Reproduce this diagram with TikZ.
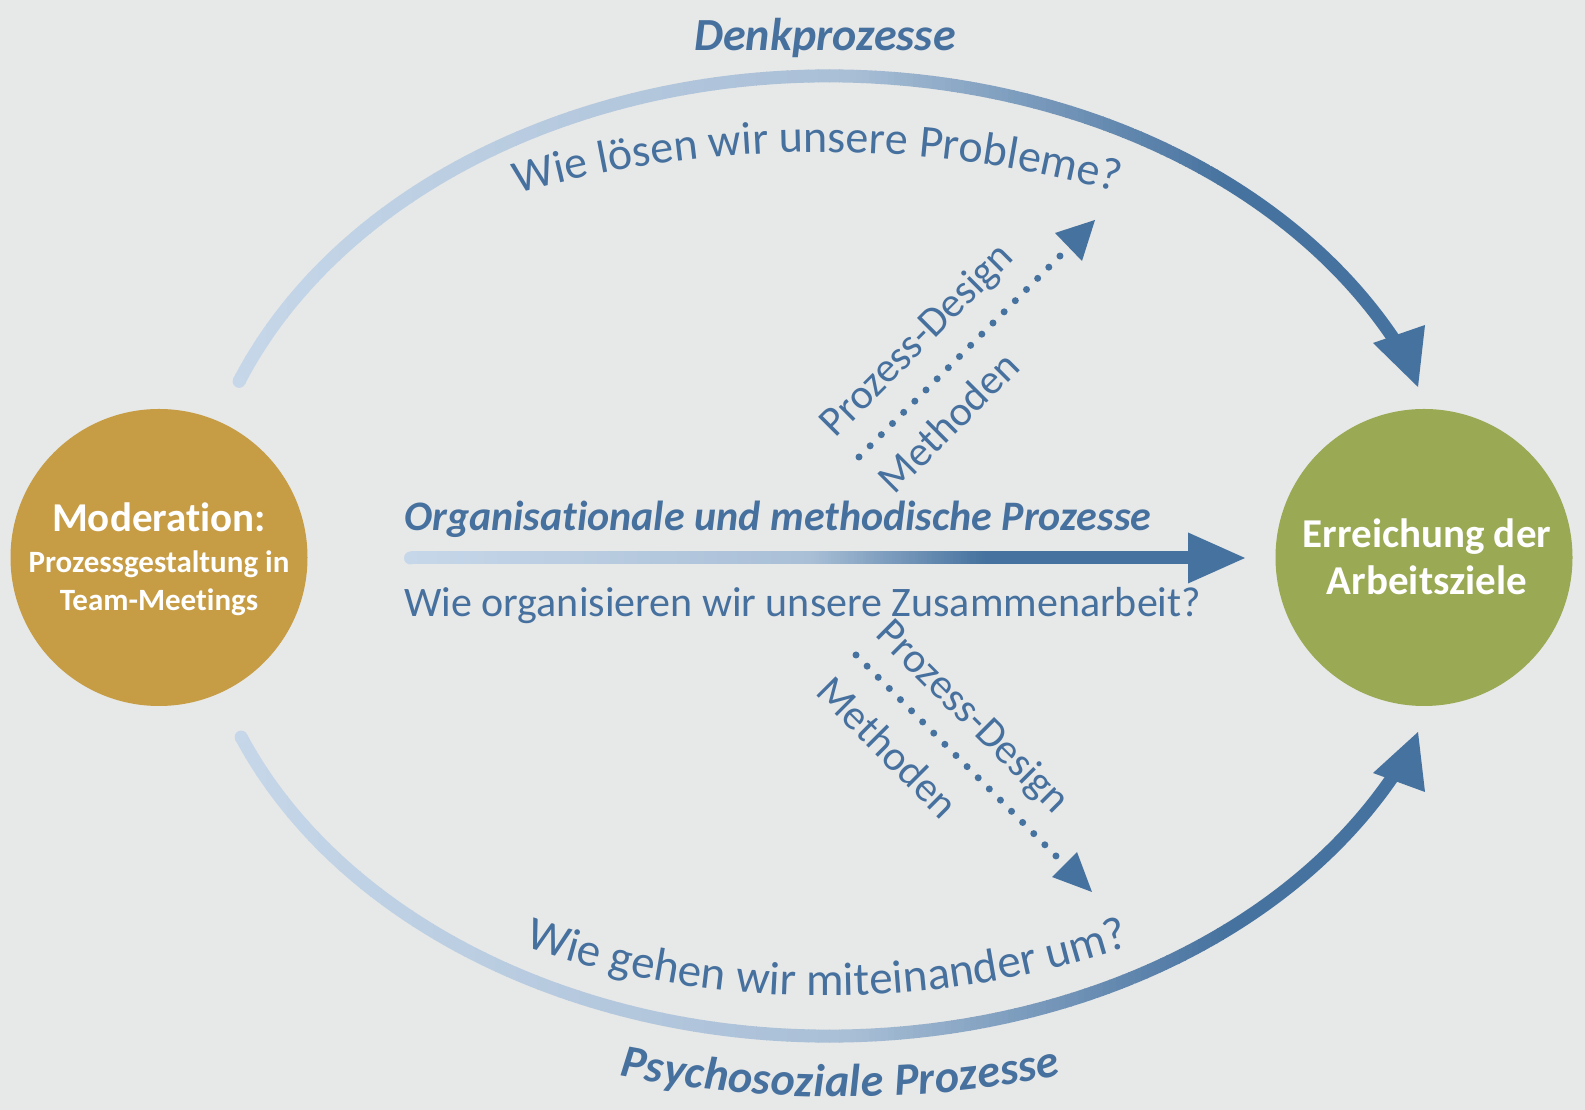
\documentclass[tikz,border=0pt]{standalone}
\usepackage{fontspec}
\setmainfont{Carlito}[Ligatures=NoCommon]
\usetikzlibrary{calc,decorations.text}
\definecolor{bgcol}{HTML}{E7E8E8}
\definecolor{gold}{HTML}{C69C45}
\definecolor{olive}{HTML}{9AA954}
\definecolor{tblue}{HTML}{46709E}
\definecolor{lightb}{HTML}{C6D7E9}
\definecolor{midb}{HTML}{A9BFD6}
\definecolor{darkb}{HTML}{46729F}
\newcommand\curvefont{\fontsize{46}{54}\selectfont}
\newcommand\curvefontb{\fontsize{47}{54}\selectfont}
\newcommand\curvebold{\fontsize{46}{54}\selectfont\bfseries\itshape}
% gradient slices: #1 x0, #2 x1, #3 y0, #4 y1, #5 colour from, #6 colour to
\newcommand\gradslices[6]{%
  \pgfmathsetmacro\gw{(#2-#1)/60}%
  \foreach \gi in {0,...,59}{%
    \pgfmathtruncatemacro\gp{round(100*(\gi+0.5)/60)}%
    \fill[#6!\gp!#5] ({#1+\gi*\gw-0.4},#3) rectangle ({#1+(\gi+1)*\gw+0.4},#4);
  }%
}
\begin{document}
\begin{tikzpicture}[x=1pt,y=1pt,
  lbl/.style={text=tblue, inner sep=0pt, font=\fontsize{42}{50}\selectfont},
  ttl/.style={text=tblue, inner sep=0pt, font=\fontsize{46}{54}\selectfont\bfseries\itshape},
  ttlm/.style={text=tblue, inner sep=0pt, font=\fontsize{42}{50}\selectfont\bfseries\itshape},
  ctext/.style={text=white, inner sep=0pt, font=\fontsize{41}{48}\selectfont\bfseries},
  csmall/.style={text=white, inner sep=0pt, font=\fontsize{31}{37}\selectfont\bfseries},
  dotline/.style={draw=darkb, line width=7pt, line cap=round},
  headfill/.style={fill=darkb},
  ball/.style={circle, inner sep=0pt, minimum size=297pt}
]
\fill[bgcol] (0,0) rectangle (1585,1110);
\useasboundingbox (0,0) rectangle (1585,1110);

% circles
\node[ball, fill=gold] (mod) at (159,552.5) {};
\node[ball, fill=olive] (ziel) at (1424,552.5) {};
\node[ctext, anchor=base] (modt1) at (159,578) {Moderation:};
\node[csmall, anchor=base] (modt2) at (159,537) {Prozessgestaltung in};
\node[csmall, anchor=base] (modt3) at (159,499) {Team-Meetings};
\node[ctext, anchor=base] (zt1) at (1427,562) {Erreichung der};
\node[ctext, anchor=base] (zt2) at (1427,515) {Arbeitsziele};

% top band
\coordinate (ts) at ([shift={(829,552)}]158.5:634 and 482);
\begin{scope}
\clip ([shift={(829,552)}]158.5:640.5 and 488.5) arc[start angle=158.5, end angle=27, x radius=640.5, y radius=488.5]
  -- ([shift={(829,552)}]27:627.5 and 475.5) arc[start angle=27, end angle=158.5, x radius=627.5, y radius=475.5] -- cycle;
\gradslices{225}{850}{690}{1050}{lightb}{midb}
\gradslices{850}{1230}{690}{1050}{midb}{darkb}
\fill[darkb] (1229.5,690) rectangle (1440,1050);
\end{scope}
\fill[lightb] (ts) circle (6.5);
\coordinate (tl) at (1373,767); \coordinate (tr) at (1425,785); \coordinate (tt) at (1418,723);
\fill[headfill] (tl) -- (tr) -- (tt) -- cycle;

% bottom band
\coordinate (bs) at ([shift={(829,552)}]202:634 and 478);
\begin{scope}
\clip ([shift={(829,552)}]202:640.5 and 484.5) arc[start angle=202, end angle=333, x radius=640.5, y radius=484.5]
  -- ([shift={(829,552)}]333:627.5 and 471.5) arc[start angle=333, end angle=202, x radius=627.5, y radius=471.5] -- cycle;
\gradslices{225}{850}{50}{420}{lightb}{midb}
\gradslices{850}{1230}{50}{420}{midb}{darkb}
\fill[darkb] (1229.5,50) rectangle (1440,420);
\end{scope}
\fill[lightb] (bs) circle (6.5);
\coordinate (bl) at (1373,337); \coordinate (br) at (1425,318); \coordinate (bt) at (1418,378);
\fill[headfill] (bl) -- (br) -- (bt) -- cycle;

% middle arrow
\coordinate (ms) at (410.5,552);
\begin{scope}
\clip (410.5,545.5) rectangle (1192,558.5);
\gradslices{410.5}{811}{545.5}{558.5}{lightb}{midb}
\gradslices{811}{985}{545.5}{558.5}{midb}{darkb}
\fill[darkb] (984.5,545.5) rectangle (1192,558.5);
\end{scope}
\fill[lightb] (ms) circle (6.5);
\coordinate (mh1) at (1188,577.5); \coordinate (mh2) at (1188,526.5); \coordinate (mt) at (1245,552);
\fill[headfill] (mh1) -- (mt) -- (mh2) -- cycle;

% dotted arrows
\coordinate (u1) at (859,653); \coordinate (u2) at (1060,854);
\draw[dotline, dash pattern=on 0pt off 15.79pt] (u1) -- (u2);
\fill[headfill] (1055,877) -- (1082,849) -- (1095,890) -- cycle;
\coordinate (l1) at (856,455); \coordinate (l2) at (1056,254);
\draw[dotline, dash pattern=on 0pt off 15.75pt] (l1) -- (l2);
\fill[headfill] (1052,233) -- (1077,258) -- (1092,218) -- cycle;

\node[lbl, rotate=45] (upd) at (918,769) {Prozess-Design};
\node[lbl, rotate=45] (um) at (948,688) {Methoden};
\node[lbl, rotate=-45] (lpd) at (972,392) {Prozess-Design};
\node[lbl, rotate=-45] (lm) at (888,363) {Methoden};

% texts
\node[ttl, anchor=base] (denk) at (825,1059.5) {Denkprozesse};
\node[ttlm, anchor=base west] (org) at (404,579) {Organisationale und methodische Prozesse};
\node[lbl, anchor=base west] (orgq) at (404,493) {Wie organisieren wir unsere Zusammenarbeit?};

\path[decorate, decoration={text along path, text align={fit to path}, text color=tblue,
  text={|\curvefont|Wie lösen wir unsere Probleme?}}]
  ([shift={(820,-168)}]105.56:1126) arc[start angle=105.56, end angle=74.7, radius=1126];
\path[decorate, decoration={text along path, text align={fit to path}, text color=tblue,
  text={|\curvefontb|Wie gehen wir miteinander um?}}]
  ([shift={(826,1059)}]-108.6:945) arc[start angle=-108.6, end angle=-71.4, radius=945];
\path[decorate, decoration={text along path, text align={fit to path}, text color=tblue,
  text={|\curvebold|Psychosoziale Prozesse}}]
  ([shift={(840,1179)}]-100.9:1166) arc[start angle=-100.9, end angle=-79.1, radius=1166];
\end{tikzpicture}
\end{document}
